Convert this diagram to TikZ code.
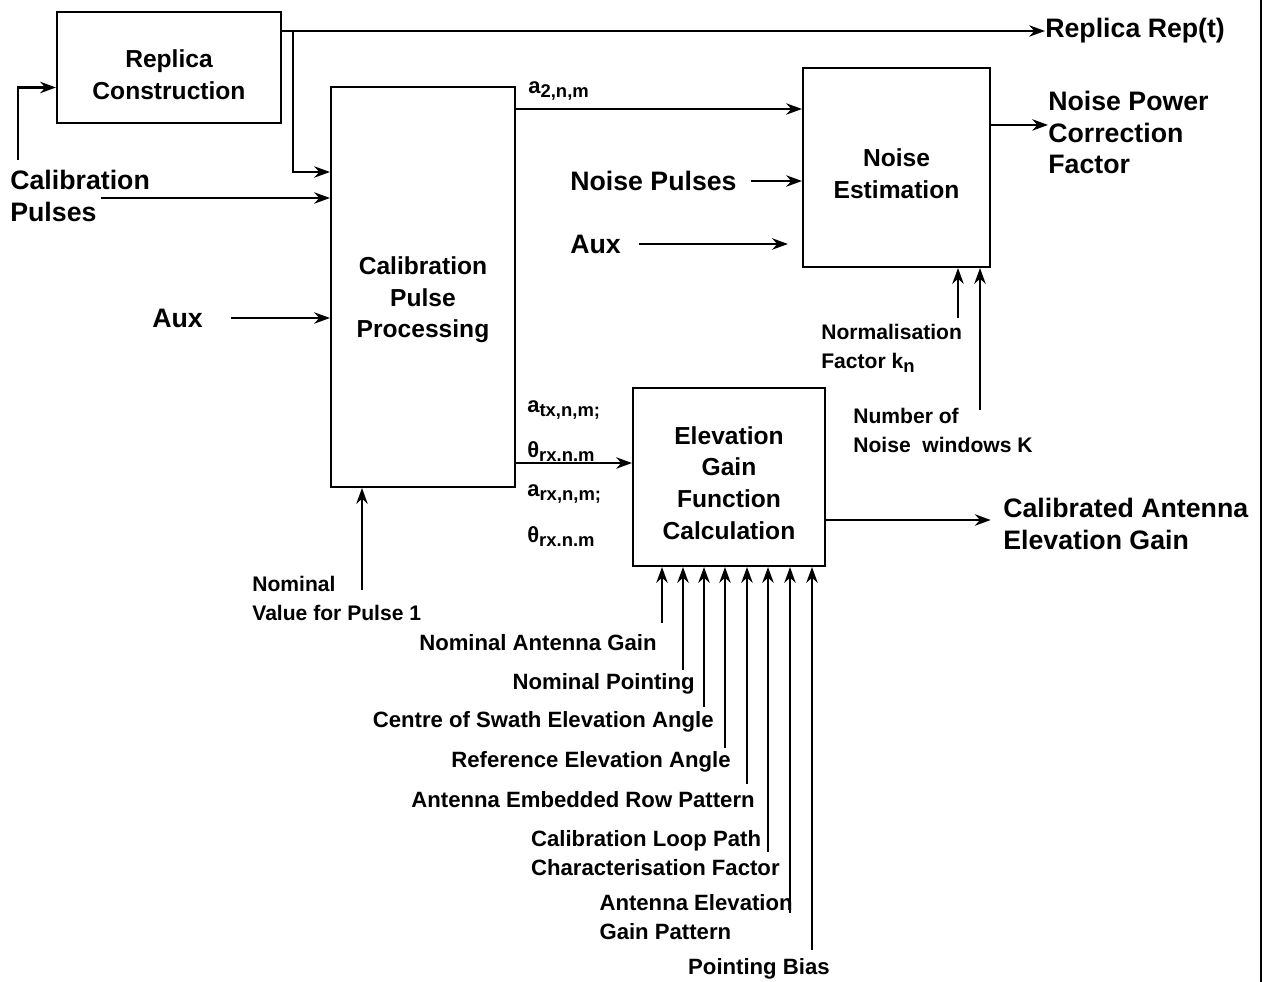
\documentclass[tikz,border=0pt]{standalone}
\usepackage{fontspec}
\setmainfont{Liberation Sans}
\usetikzlibrary{arrows.meta, calc, positioning}

\newcommand\lowidx[1]{\raisebox{-0.35ex}{\fontsize{10.5}{12}\selectfont #1}}

\tikzset{
  box/.style = {draw, line width = 1.2pt, inner sep = 0pt},
  boxtext/.style = {inner sep = 0pt, align = center, font = \bfseries\fontsize{14}{18}\selectfont},
  lab/.style = {inner sep = 0pt, align = left, font = \bfseries\fontsize{15.2}{18}\selectfont},
  sml/.style = {inner sep = 0pt, align = left, font = \bfseries\fontsize{12}{16.5}\selectfont},
  bot/.style = {inner sep = 0pt, align = left, font = \bfseries\fontsize{12.6}{16.5}\selectfont},
  sub/.style = {inner sep = 0pt, align = left, font = \bfseries\fontsize{12.5}{14}\selectfont},
  arr/.style = {line width = 1.2pt, -{Stealth[length = 9pt, width = 6.5pt]}}
}

\begin{document}
\begin{tikzpicture}[x = 0.02cm, y = -0.02cm]
\useasboundingbox (0,0) rectangle (1268,982);

% processing blocks
\node [box, minimum width = 4.48cm, minimum height = 2.22cm] (repl) at (169,67.5) {};
\node [boxtext] (replt) at ($(repl)+(0,7)$) {Replica\\Construction};
\node [box, minimum width = 3.68cm, minimum height = 8cm] (cpp) at (423,287) {};
\node [boxtext] (cppt) at ($(cpp)+(0,13)$) {Calibration\\Pulse\\Processing};
\node [box, minimum width = 3.74cm, minimum height = 3.98cm] (ne) at (896.5,167.5) {};
\node [boxtext] (net) at ($(ne)+(0,6)$) {Noise\\Estimation};
\node [box, minimum width = 3.84cm, minimum height = 3.56cm] (egf) at (729,477) {};
\node [boxtext] (egft) at ($(egf)+(0,6)$) {Elevation\\Gain\\Function\\Calculation};

% inputs and outputs
\node [lab, anchor = west] (rep) at (1045,31) {Replica Rep(t)};
\node [lab, anchor = west] (cal) at (10,196) {Calibration\\Pulses};
\node [lab, anchor = west] (aux1) at (152,318) {Aux};
\node [lab, anchor = west] (np) at (570,181) {Noise Pulses};
\node [lab, anchor = west] (aux2) at (570,244) {Aux};
\node [lab, anchor = north west] (npcf) at (1048,91) {Noise Power\\Correction\\Factor};
\node [lab, anchor = west] (cae) at (1003,524) {Calibrated Antenna\\Elevation Gain};
\node [sml, anchor = west] (nf) at (821,348) {Normalisation\\Factor k\lowidx{n}};
\node [sml, anchor = west] (nw) at (853,430) {Number of\\Noise\ \ windows K};
\node [sml, anchor = west] (nv) at (252,598) {Nominal\\Value for Pulse 1};

\coordinate (split) at (293,31);
\coordinate (calup) at (18,160);
\coordinate (nfin) at (958,318);
\coordinate (nwin) at (980,410);
\coordinate (nvin) at (362,590);

\draw [arr] (repl.east |- rep.west) -- (rep.west);
\draw [arr] (split) |- ($(cpp.west)+(0,-115)$);
\draw [arr] (calup) |- ($(repl.west)+(0,20)$);
\draw [arr] ($(cal.east)+(-49,2)$) -- (cpp.west |- 0,198);
\draw [arr, shorten <= 16pt] (aux1.east) -- (cpp.west |- aux1.east);
\draw [arr, shorten <= 8pt] (np.east) -- (ne.west |- np.east);
\draw [arr, shorten <= 10pt, shorten >= 8pt] (aux2.east) -- (ne.west |- aux2.east);
\draw [arr] ($(ne.north east)+(0,58)$) coordinate (nout) -- (npcf.north west |- nout);
\draw [arr] (nfin) -- (nfin |- ne.south);
\draw [arr] (nwin) -- (nwin |- ne.south);
\draw [arr] (nvin) -- (nvin |- cpp.south);
\draw [arr] ($(egf.east)+(0,43)$) coordinate (eout) -- ([xshift = -7]cae.west |- eout);

% pulse parameters
\draw [arr] ($(cpp.north east)+(0,23)$) coordinate (a2) -- (ne.west |- a2);
\node [sub, anchor = south west] (a2l) at ($(a2)+(12,-8)$) {a\lowidx{2,n,m}};
\draw [arr] ($(cpp.south east)+(0,-25)$) coordinate (ph) -- (egf.west |- ph);
\node [sub, anchor = west] (atx) at (527,410) {a\lowidx{tx,n,m;}};
\node [sub, anchor = west] (ptx) at (527,452) {θ\lowidx{rx.n.m}};
\node [sub, anchor = west] (arx) at (527,494) {a\lowidx{rx,n,m;}};
\node [sub, anchor = west] (prx) at (527,537) {θ\lowidx{rx.n.m}};

% antenna inputs
\foreach \x/\y/\lx/\ly/\t [count = \i] in {
  662/623/657/643/{Nominal Antenna Gain},
  683/670/695/684/{Nominal Pointing},
  704/707/714/722/{Centre of Swath Elevation Angle},
  725/748/731/762/{Reference Elevation Angle},
  747/784/755/800/{Antenna Embedded Row Pattern},
  768/852/780/853/{Calibration Loop Path\\Characterisation Factor},
  790/913/793/917/{Antenna Elevation\\Gain Pattern},
  812/950/830/969/{Pointing Bias}}
{
  \coordinate (ain\i) at (\x,\y);
  \draw [arr] (ain\i) -- (ain\i |- egf.south);
  \node [bot, anchor = east] (alab\i) at (\lx,\ly) {\t};
}

% right edge
\draw [line width = 1pt] (1261,0) -- (1261,982);
\end{tikzpicture}
\end{document}
